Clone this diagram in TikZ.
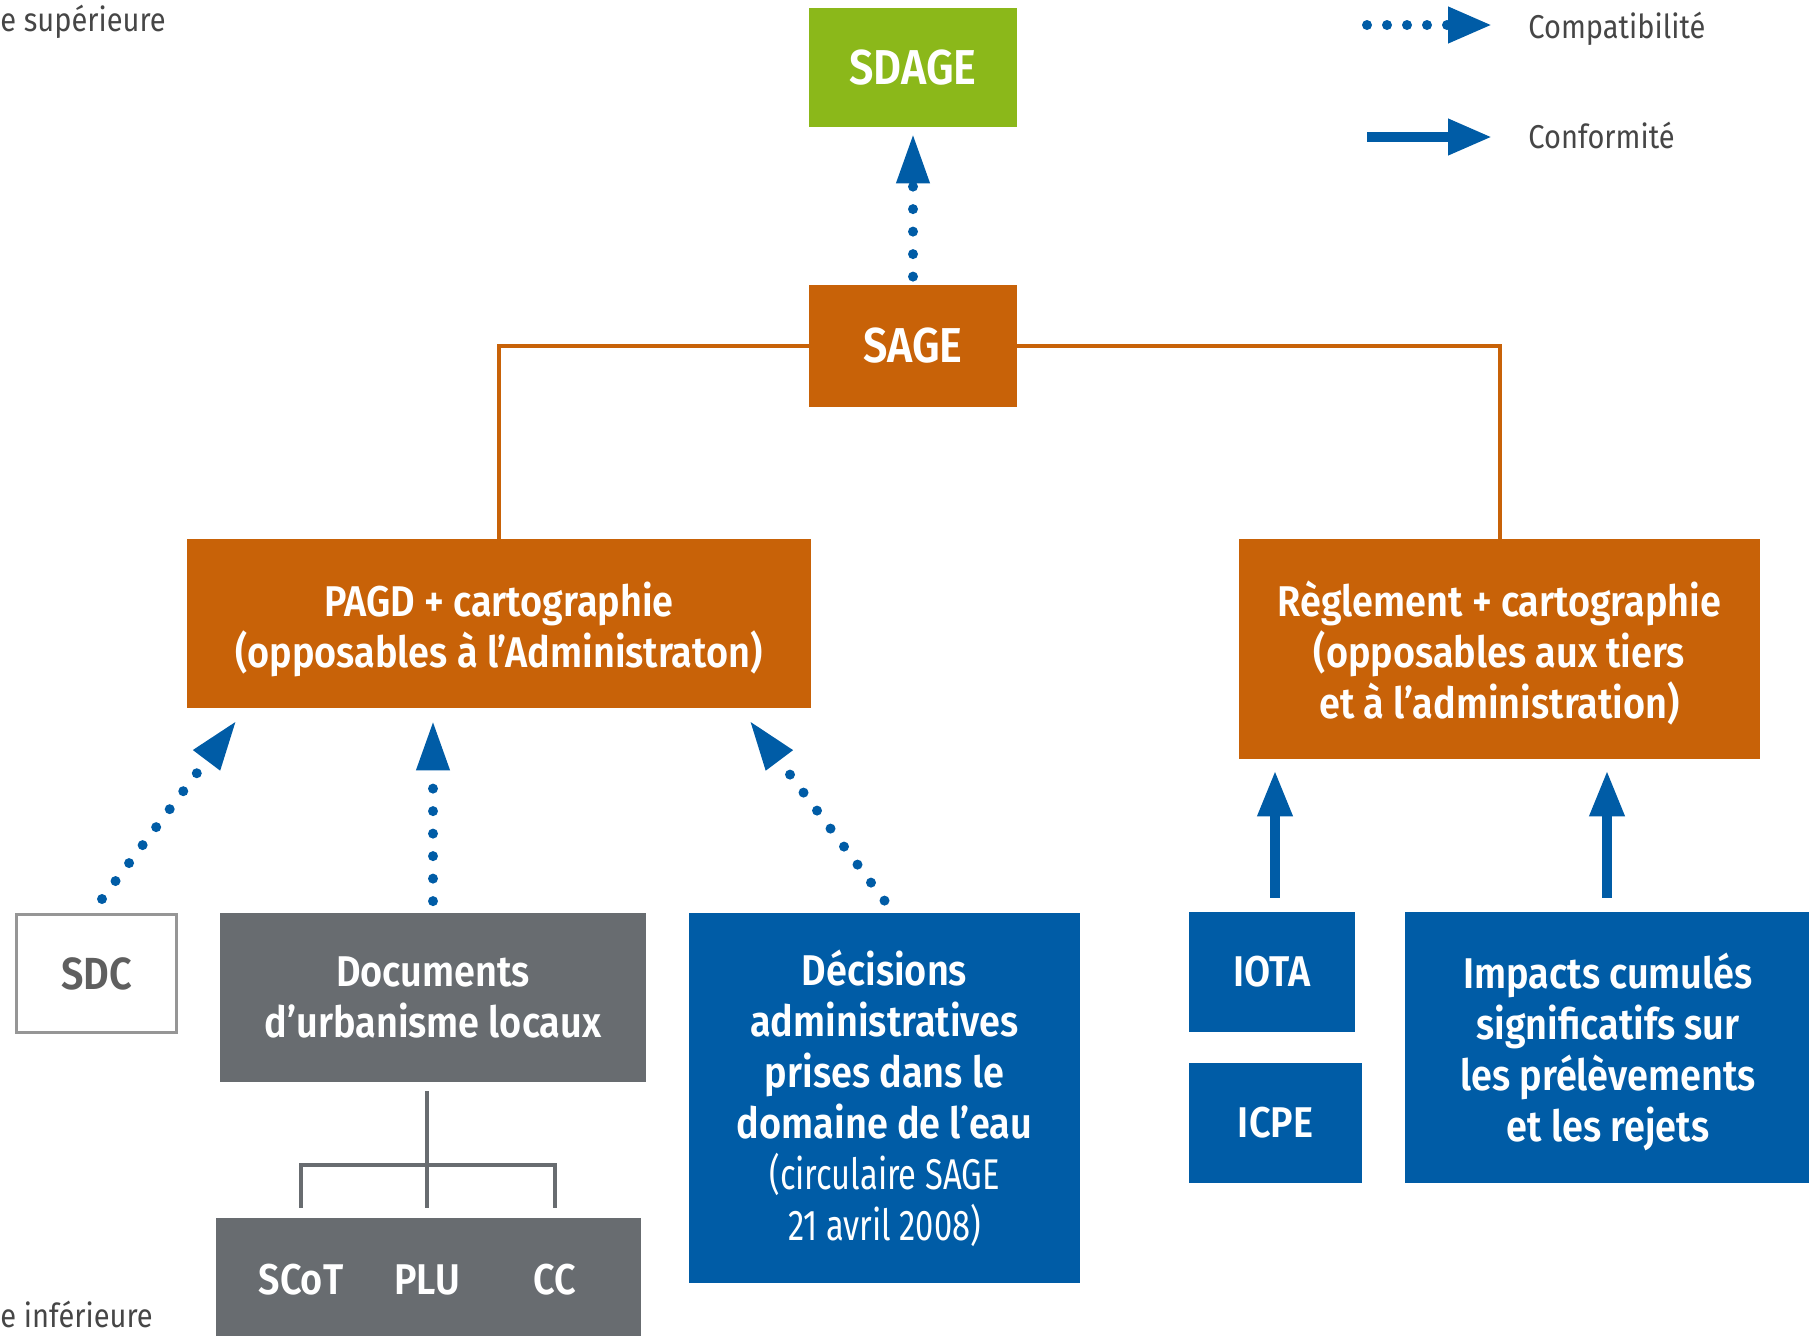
\documentclass[tikz,border=0pt]{standalone}
\usepackage{fontspec}
\setmainfont{Fira Sans}[FakeStretch=0.88, BoldFont={Fira Sans SemiBold}]
\newfontfamily\condfont{Fira Sans}[FakeStretch=0.76]
\usetikzlibrary{arrows.meta,calc}
\definecolor{sgreen}{RGB}{139,184,26}
\definecolor{sorange}{RGB}{200,98,8}
\definecolor{sblue}{RGB}{0,92,166}
\definecolor{sgrey}{RGB}{104,108,112}
\definecolor{ltext}{RGB}{70,70,70}
\definecolor{sdcborder}{RGB}{150,150,150}
\definecolor{sdctext}{RGB}{95,95,95}
\newcommand\lighttxt[1]{{\condfont\mdseries #1}}
\begin{document}
\begin{tikzpicture}[x=0.5pt,y=-0.5pt,
  box/.style={rectangle, inner sep=0pt, align=center, text=white,
    font=\fontsize{21.5}{25.5}\selectfont\bfseries},
  bigbox/.style={box, font=\fontsize{24.5}{28}\selectfont\bfseries},
  btext/.style={inner sep=0pt, align=center, text=white, font=\fontsize{21.5}{25.5}\selectfont\bfseries},
  legtext/.style={inner sep=0pt, text=ltext, font=\fontsize{16.5}{20}\selectfont},
  dotarrow/.style={draw=sblue, line width=5pt, line cap=round,
    dash pattern=on 0pt off 11.25pt, -{Triangle[length=25pt,width=15.5pt]}},
  legdot/.style={draw=sblue, line width=5pt, line cap=round,
    dash pattern=on 0pt off 10pt, -{Triangle[length=22pt,width=17pt]}},
  fullarrow/.style={draw=sblue, line width=5pt, -{Triangle[length=23pt,width=16.5pt]}},
  legfull/.style={draw=sblue, line width=5pt, -{Triangle[length=22pt,width=17pt]}},
  orangeline/.style={draw=sorange, line width=2pt},
  greyline/.style={draw=sgrey, line width=2pt}
]
\useasboundingbox (0,0) rectangle (1809,1335);

% top boxes
\node[bigbox, fill=sgreen, minimum width=104pt, minimum height=59.5pt] (sdage) at (913,67.5) {SDAGE};
\node[bigbox, fill=sorange, minimum width=104pt, minimum height=61pt] (sage) at (913,346) {SAGE};

% middle boxes
\node[box, fill=sorange, minimum width=312pt, minimum height=84.5pt] (pagd) at (499,623.5) {};
\node[btext] (pagdtxt) at ($(pagd.center)+(0,6)$)
  {PAGD + cartographie\\(opposables à l’Administraton)};
\node[box, fill=sorange, minimum width=260.5pt, minimum height=110pt] (regl) at (1499.5,649) {};
\node[btext] (regltxt) at ($(regl.center)+(0,4)$)
  {Règlement + cartographie\\(opposables aux tiers\\et à l’administration)};

% bottom boxes
\node[box, fill=white, draw=sdcborder, line width=1.5pt, text=sdctext,
  minimum width=80pt, minimum height=59pt,
  font=\fontsize{22.5}{26}\selectfont\bfseries] (sdc) at (96.5,973.5) {SDC};
\node[box, fill=sgrey, minimum width=213pt, minimum height=84.5pt] (docs) at (433,997)
  {Documents\\d’urbanisme locaux};
\node[box, fill=sgrey, minimum width=212.5pt, minimum height=62pt] (urb) at (428.5,1280) {};
\node[btext] (scot) at (301,1280) {SCoT};
\node[btext] (plu) at (427,1280) {PLU};
\node[btext] (cc) at (555,1280) {CC};
\node[box, fill=sblue, minimum width=195.5pt, minimum height=185pt] (dec) at (884.5,1098)
  {Décisions\\administratives\\prises dans le\\domaine de l’eau\\\lighttxt{(circulaire SAGE}\\\lighttxt{21 avril 2008)}};
\node[box, fill=sblue, minimum width=83pt, minimum height=60pt] (iota) at (1272,972) {IOTA};
\node[box, fill=sblue, minimum width=86.5pt, minimum height=60pt] (icpe) at (1275.5,1123) {ICPE};
\node[box, fill=sblue, minimum width=205pt, minimum height=135.5pt] (imp) at (1610,1047.5) {};
\node[btext] (imptxt) at ($(imp.center)+(-2,4)$)
  {Impacts cumulés\\significatifs sur\\les prélèvements\\et les rejets};

% orange connectors
\draw[orangeline] (sage.west) -| (pagd.north);
\draw[orangeline] (sage.east) -| (regl.north);

% grey connectors
\coordinate (j) at (427,1165);
\draw[greyline] (j |- docs.south) ++(0,9) -- ($(j |- urb.north)+(0,-10)$);
\draw[greyline] ($(scot |- urb.north)+(0,-10)$) |- (j) -| ($(cc |- urb.north)+(0,-10)$);

% compatibility arrows
\draw[dotarrow] ($(sage.north)+(0,-8)$) -- ($(sdage.south)+(0,6)$);
\draw[dotarrow] ($(sdc.north)+(5.5,-14)$) -- ($(pagd.south west)+(50,12)$);
\draw[dotarrow] ($(docs.north)+(0,-11)$) -- ($(docs.north |- pagd.south)+(0,12)$);
\draw[dotarrow] ($(dec.north)+(0,-12)$) -- ($(pagd.south east)+(-62,12)$);

% conformity arrows
\draw[fullarrow] ($(iota.north)+(3,-14)$) -- ($(iota.north |- regl.south)+(3,11)$);
\draw[fullarrow] ($(imp.north)+(-3,-14)$) -- ($(imp.north |- regl.south)+(-3,11)$);

% legend
\coordinate (l1a) at (1367,25);
\coordinate (l1b) at (1492,25);
\coordinate (l2a) at (1367,137);
\coordinate (l2b) at (1492,137);
\draw[legdot] (l1a) -- (l1b);
\draw[legfull] (l2a) -- (l2b);
\node[legtext, anchor=base west] (lcomp) at (1528,38) {Compatibilité};
\node[legtext, anchor=base west] (lconf) at (1528,148) {Conformité};

% side labels
\node[legtext, anchor=base west] (sup) at (0,31) {e supérieure};
\node[legtext, anchor=base west] (inf) at (0,1327) {e inférieure};
\end{tikzpicture}
\end{document}
